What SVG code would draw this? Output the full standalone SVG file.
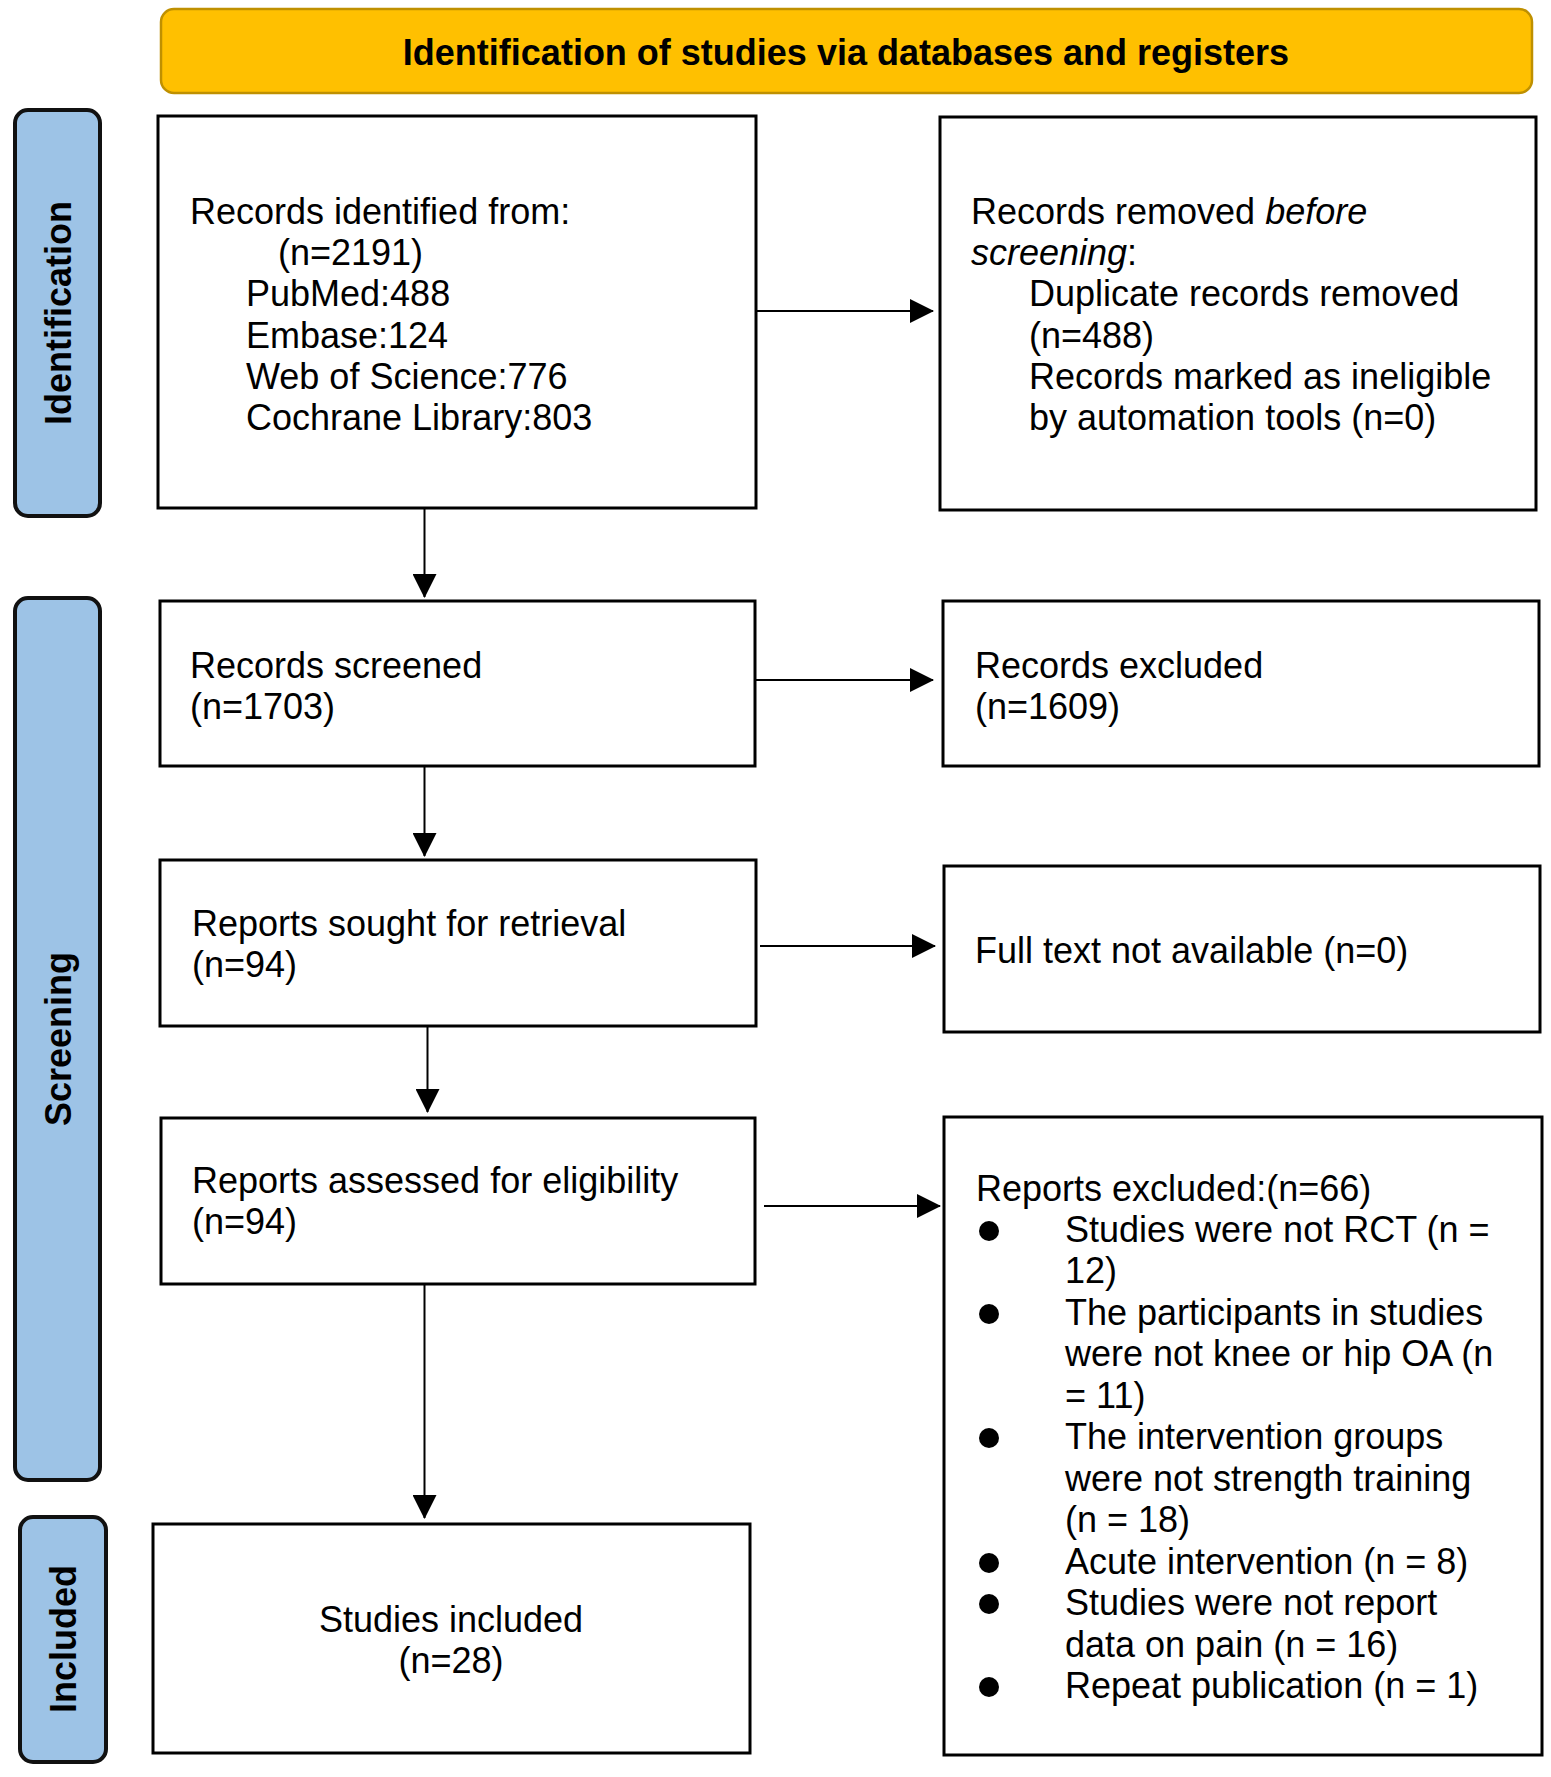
<svg xmlns="http://www.w3.org/2000/svg" width="1551" height="1777" viewBox="0 0 1551 1777">
<style>
text{font-family:"Liberation Sans",Arial,sans-serif;font-size:36px;fill:#000}
.b{font-weight:bold}
.box{fill:#fff;stroke:#000;stroke-width:3}
.lab{fill:#9DC3E6;stroke:#111;stroke-width:4}
.hdr{fill:#FFC000;stroke:#BF9000;stroke-width:2.5}
.con{stroke:#000;stroke-width:2;fill:none;marker-end:url(#ah)}
.i{font-style:italic}
</style>
<defs>
<marker id="ah" markerUnits="userSpaceOnUse" markerWidth="24" markerHeight="24" refX="23" refY="12" orient="auto">
<path d="M0,0 L24,12 L0,24 Z" fill="#000"/>
</marker>
</defs>
<rect width="1551" height="1777" fill="#fff"/>
<g id="header">
<rect class="hdr" x="161" y="9" width="1371" height="84" rx="13"/>
<text class="b" x="846" y="65" text-anchor="middle">Identification of studies via databases and registers</text>
</g>
<g id="label-identification">
<rect class="lab" x="15" y="110" width="85" height="406" rx="13"/>
<text class="b" transform="translate(71,313) rotate(-90)" text-anchor="middle">Identification</text>
</g>
<g id="label-screening">
<rect class="lab" x="15" y="598" width="85" height="882" rx="13"/>
<text class="b" transform="translate(71,1039) rotate(-90)" text-anchor="middle">Screening</text>
</g>
<g id="label-included">
<rect class="lab" x="20" y="1517" width="86" height="245" rx="13"/>
<text class="b" transform="translate(76,1639) rotate(-90)" text-anchor="middle">Included</text>
</g>
<g id="records-identified">
<rect class="box" x="158" y="116" width="598" height="392"/>
<text x="190" y="224">Records identified from:</text>
<text x="278" y="265">(n=2191)</text>
<text x="246" y="306">PubMed:488</text>
<text x="246" y="348">Embase:124</text>
<text x="246" y="389">Web of Science:776</text>
<text x="246" y="430">Cochrane Library:803</text>
</g>
<g id="records-removed">
<rect class="box" x="940" y="117" width="596" height="393"/>
<text x="971" y="224">Records removed <tspan class="i">before</tspan></text>
<text x="971" y="265"><tspan class="i">screening</tspan>:</text>
<text x="1029" y="306">Duplicate records removed</text>
<text x="1029" y="348">(n=488)</text>
<text x="1029" y="389">Records marked as ineligible</text>
<text x="1029" y="430">by automation tools (n=0)</text>
</g>
<g id="records-screened">
<rect class="box" x="160" y="601" width="595" height="165"/>
<text x="190" y="678">Records screened</text>
<text x="190" y="719">(n=1703)</text>
</g>
<g id="records-excluded">
<rect class="box" x="943" y="601" width="596" height="165"/>
<text x="975" y="678">Records excluded</text>
<text x="975" y="719">(n=1609)</text>
</g>
<g id="reports-sought">
<rect class="box" x="160" y="860" width="596" height="166"/>
<text x="192" y="936">Reports sought for retrieval</text>
<text x="192" y="977">(n=94)</text>
</g>
<g id="full-text">
<rect class="box" x="944" y="866" width="596" height="166"/>
<text x="975" y="963">Full text not available (n=0)</text>
</g>
<g id="reports-assessed">
<rect class="box" x="161" y="1118" width="594" height="166"/>
<text x="192" y="1193">Reports assessed for eligibility</text>
<text x="192" y="1234">(n=94)</text>
</g>
<g id="reports-excluded">
<rect class="box" x="944" y="1117" width="598" height="638"/>
<text x="976" y="1201">Reports excluded:(n=66)</text>
<circle cx="989" cy="1231" r="10"/>
<text x="1065" y="1242">Studies were not RCT (n =</text>
<text x="1065" y="1283">12)</text>
<circle cx="989" cy="1314" r="10"/>
<text x="1065" y="1325">The participants in studies</text>
<text x="1065" y="1366">were not knee or hip OA (n</text>
<text x="1065" y="1408">= 11)</text>
<circle cx="989" cy="1438" r="10"/>
<text x="1065" y="1449">The intervention groups</text>
<text x="1065" y="1491">were not strength training</text>
<text x="1065" y="1532">(n = 18)</text>
<circle cx="989" cy="1563" r="10"/>
<text x="1065" y="1574">Acute intervention (n = 8)</text>
<circle cx="989" cy="1604" r="10"/>
<text x="1065" y="1615">Studies were not report</text>
<text x="1065" y="1657">data on pain (n = 16)</text>
<circle cx="989" cy="1687" r="10"/>
<text x="1065" y="1698">Repeat publication (n = 1)</text>
</g>
<g id="studies-included">
<rect class="box" x="153" y="1524" width="597" height="229"/>
<text x="451" y="1632" text-anchor="middle">Studies included</text>
<text x="451" y="1673" text-anchor="middle">(n=28)</text>
</g>
<g id="connectors">
<line class="con" x1="757" y1="311" x2="933" y2="311"/>
<line class="con" x1="424.5" y1="509" x2="424.5" y2="597"/>
<line class="con" x1="756" y1="680" x2="933" y2="680"/>
<line class="con" x1="424.5" y1="767" x2="424.5" y2="856"/>
<line class="con" x1="760" y1="946" x2="935" y2="946"/>
<line class="con" x1="427.5" y1="1027" x2="427.5" y2="1112"/>
<line class="con" x1="764" y1="1206" x2="940" y2="1206"/>
<line class="con" x1="424.5" y1="1285" x2="424.5" y2="1518"/>
</g>
</svg>
